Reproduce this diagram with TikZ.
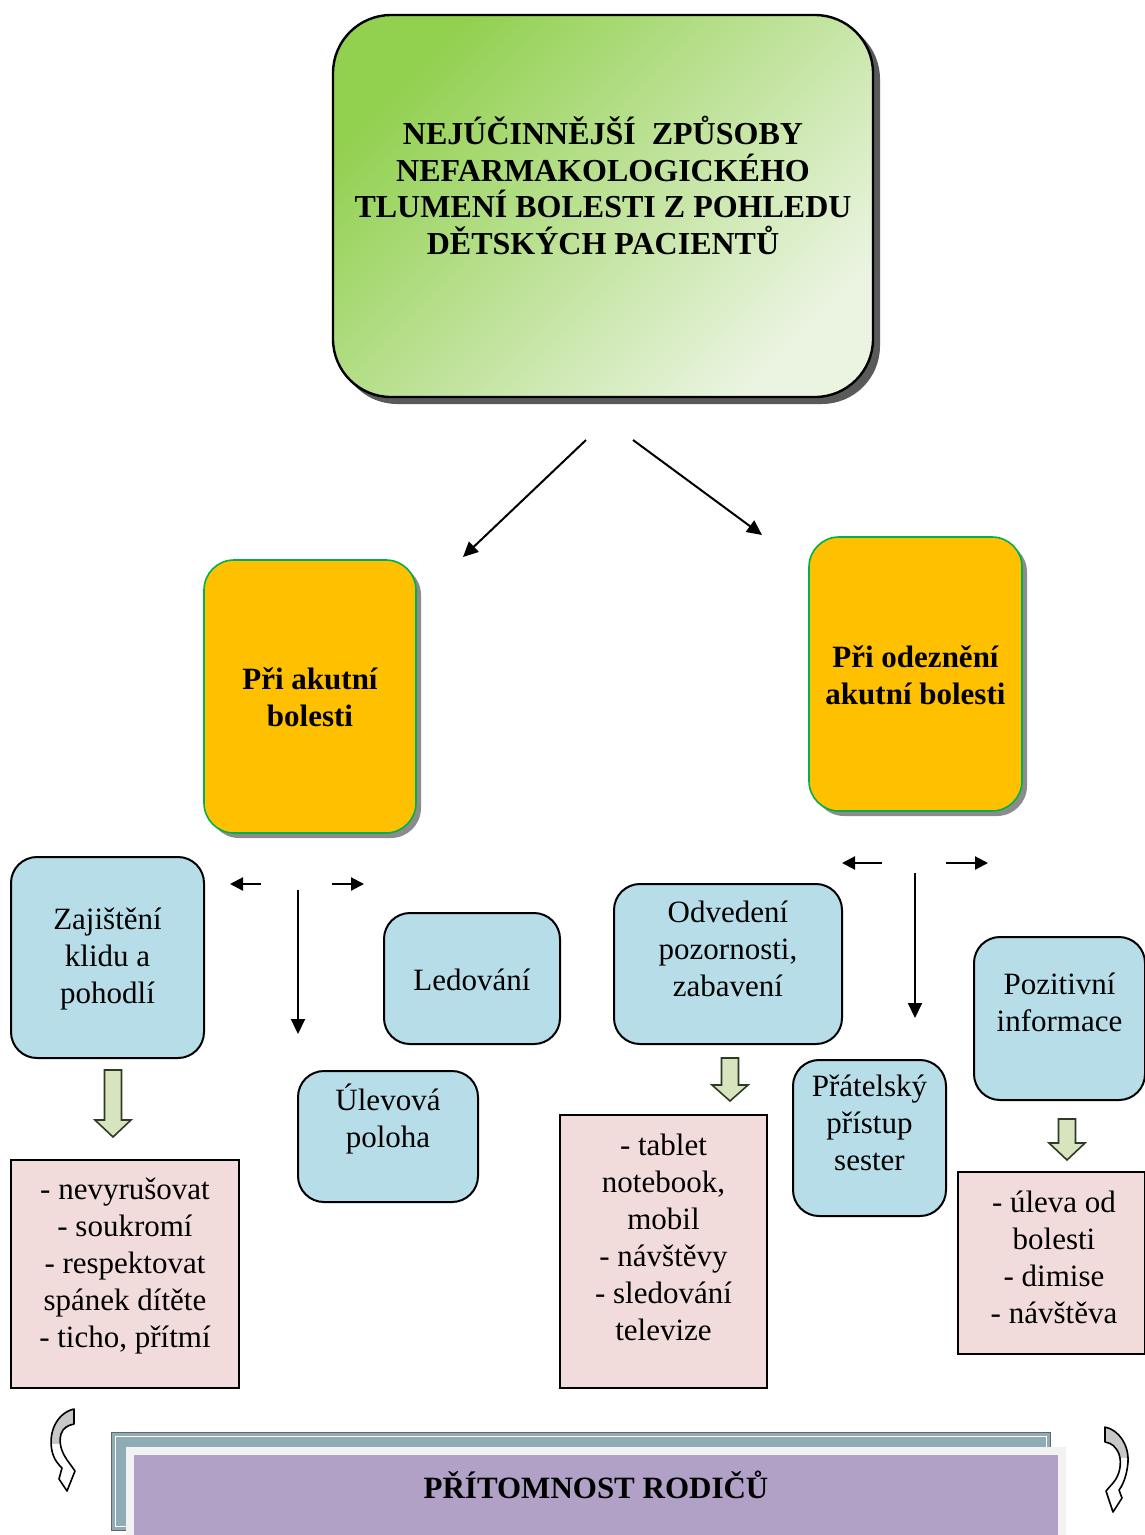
\documentclass[tikz,border=0pt]{standalone}
\usepackage{fontspec}
\setmainfont{Liberation Serif}
\usetikzlibrary{arrows.meta}
\definecolor{titlegreen}{HTML}{92D050}
\definecolor{titlepale}{HTML}{EAF4E0}
\definecolor{shadowdark}{HTML}{5A5A5A}
\definecolor{shadowgray}{HTML}{8C8C8C}
\definecolor{boxorange}{HTML}{FFC000}
\definecolor{orangeedge}{HTML}{00B050}
\definecolor{boxblue}{HTML}{B7DEE8}
\definecolor{boxpink}{HTML}{F2DCDB}
\definecolor{arrowgreen}{HTML}{D7E4BD}
\definecolor{arrowedge}{HTML}{2F3A24}
\definecolor{barback}{HTML}{8FACB4}
\definecolor{barframe}{HTML}{F2F2F2}
\definecolor{barpurple}{HTML}{B2A1C7}
\definecolor{curlgray}{HTML}{C8C8C8}

\tikzset{
  txt/.style={align=center, inner sep=0pt, font=\fontsize{31}{37}\selectfont},
  boldtxt/.style={align=center, inner sep=0pt, font=\bfseries\fontsize{31}{37}\selectfont},
  titlebox/.style={draw=black, line width=2.4pt, rounded corners=58pt,
    top color=titlegreen, bottom color=titlepale, shading angle=45,
    minimum width=540pt, minimum height=382pt, inner sep=0pt},
  orangebox/.style={draw=orangeedge, line width=1.6pt, fill=boxorange, rounded corners=30pt,
    minimum width=212pt, minimum height=273pt, inner sep=0pt},
  bluebox/.style={draw=black, line width=2pt, fill=boxblue, rounded corners=26pt, inner sep=0pt},
  pinkbox/.style={draw=black, line width=1.6pt, fill=boxpink, inner sep=0pt},
  conn/.style={line width=2pt, -{Triangle[length=15pt,width=14pt]}},
  shortconn/.style={line width=2.2pt, -{Triangle[length=13pt,width=13pt]}},
  blockarrow/.style={draw=arrowedge, line width=1.6pt, fill=arrowgreen, line join=miter},
  curl/.style={draw=black, line width=1.6pt, line join=round}
}

\newcommand\blockdown[4]{% x, top, head start, tip
  \path[blockarrow] (#1-8.5,#2) -- (#1+8.5,#2) -- (#1+8.5,#3) -- (#1+18,#3)
    -- (#1,#4) -- (#1-18,#3) -- (#1-8.5,#3) -- cycle;}

\begin{document}
\begin{tikzpicture}[x=1pt,y=-1pt]
\useasboundingbox (0,0) rectangle (1145,1535);

% ---------- title ----------
\fill[shadowdark, rounded corners=58pt] (339,21) rectangle (880,404);
\node[titlebox] (title) at (603,206) {};
\node[boldtxt, font=\bfseries\fontsize{32}{36.5}\selectfont] (titleT) at (603,185.5)
  {NEJÚČINNĚJŠÍ\ \ ZPŮSOBY\\NEFARMAKOLOGICKÉHO\\TLUMENÍ BOLESTI Z POHLEDU\\DĚTSKÝCH PACIENTŮ};

\coordinate (splitL) at (586,440);
\coordinate (splitR) at (633,440);
\coordinate (intoL) at (463,557);
\coordinate (intoR) at (762,535);
\draw[conn] (splitL) -- (intoL);
\draw[conn] (splitR) -- (intoR);

% ---------- the two phases ----------
\fill[shadowgray, rounded corners=30pt] (209,565) rectangle (421,838);
\node[orangebox] (acute) at (310,696.5) {};
\node[boldtxt] (acuteT) at (310,697.5) {Při akutní\\bolesti};

\fill[shadowgray, rounded corners=30pt] (814,542) rectangle (1027,816);
\node[orangebox, minimum width=213pt, minimum height=274pt] (fading) at (915.5,674) {};
\node[boldtxt] (fadingT) at (915.5,675.5) {Při odeznění\\akutní bolesti};

% ---------- branching arrows ----------
\coordinate (aW1) at (261,884); \coordinate (aW2) at (230,884);
\coordinate (aE1) at (332,884); \coordinate (aE2) at (364,884);
\coordinate (aS1) at (298,890); \coordinate (aS2) at (298,1034);
\draw[shortconn] (aW1) -- (aW2);
\draw[shortconn] (aE1) -- (aE2);
\draw[conn] (aS1) -- (aS2);

\coordinate (bW1) at (882,863); \coordinate (bW2) at (842,863);
\coordinate (bE1) at (946,863); \coordinate (bE2) at (988,863);
\coordinate (bS1) at (915,873); \coordinate (bS2) at (915,1018);
\draw[shortconn] (bW1) -- (bW2);
\draw[shortconn] (bE1) -- (bE2);
\draw[conn] (bS1) -- (bS2);

% ---------- methods ----------
\node[bluebox, minimum width=193pt, minimum height=201pt] (calm) at (107.5,957.5) {};
\node[txt] (calmT) at (107.5,959) {Zajištění\\klidu a\\pohodlí};

\node[bluebox, minimum width=176pt, minimum height=131pt] (ice) at (472,978.5) {};
\node[txt] (iceT) at (472,980) {Ledování};

\node[bluebox, minimum width=180pt, minimum height=131pt] (relief) at (388,1136.5) {};
\node[txt] (reliefT) at (388,1119) {Úlevová\\poloha};

\node[bluebox, minimum width=228pt, minimum height=160pt] (distract) at (728,964) {};
\node[txt] (distractT) at (728,949) {Odvedení\\pozornosti,\\zabavení};

\node[bluebox, minimum width=153pt, minimum height=156pt] (nurses) at (869.5,1138) {};
\node[txt] (nursesT) at (869.5,1123) {Přátelský\\přístup\\sester};

\node[bluebox, minimum width=171pt, minimum height=163pt] (info) at (1059.5,1018.5) {};
\node[txt] (infoT) at (1059.5,1002) {Pozitivní\\informace};

% ---------- details ----------
\blockdown{113}{1070}{1120}{1137}
\blockdown{730}{1058}{1085}{1101}
\blockdown{1067}{1119}{1143}{1160}

\node[pinkbox, minimum width=228pt, minimum height=228pt] (calmD) at (125,1274) {};
\node[txt] (calmDT) at (125,1266)
  {- nevyrušovat\\- soukromí\\- respektovat\\spánek dítěte\\- ticho, přítmí};

\node[pinkbox, minimum width=207pt, minimum height=273pt] (distractD) at (663.5,1251.5) {};
\node[txt] (distractDT) at (663.5,1237)
  {- tablet\\notebook,\\mobil\\- návštěvy\\- sledování\\televize};

\node[pinkbox, minimum width=187pt, minimum height=182pt] (infoD) at (1051.5,1263) {};
\node[txt] (infoDT) at (1054,1257) {- úleva od\\bolesti\\- dimise\\- návštěva};

% ---------- parents ----------
\draw[black!60, line width=0.8pt, fill=barback] (111,1432) rectangle (1050,1530);
\draw[white, line width=1pt] (115,1436) rectangle (1046,1526);
\fill[barframe] (126,1447) rectangle (1066,1535);
\fill[barpurple] (134,1455) rectangle (1058,1535);
\node[boldtxt] (parents) at (596,1485) {PŘÍTOMNOST RODIČŮ};

% curled arrows on both sides
\def\curlLeft{(74,1409) .. controls (57,1413) and (48,1432) .. (52,1451)
  .. controls (54,1460) and (59,1465) .. (62,1468) -- (59,1479) -- (67,1491) -- (75,1471)
  -- (70,1464) .. controls (63,1455) and (58,1445) .. (61,1434)
  .. controls (63,1428) and (68,1425) .. (74,1424) -- cycle}
\def\curlRight{(1105,1427) .. controls (1119,1430) and (1129,1445) .. (1128,1462)
  .. controls (1127,1475) and (1123,1485) .. (1119,1490) -- (1122,1498) -- (1113,1512)
  -- (1106,1491) -- (1113,1483) .. controls (1120,1475) and (1122,1463) .. (1119,1454)
  .. controls (1116,1447) and (1112,1443) .. (1105,1442) -- cycle}
\fill[white] \curlLeft;
\begin{scope}
  \clip \curlLeft;
  \fill[curlgray] (40,1400) rectangle (80,1444);
\end{scope}
\draw[curl] \curlLeft;
\fill[white] \curlRight;
\begin{scope}
  \clip \curlRight;
  \fill[curlgray] (1100,1420) rectangle (1135,1458);
\end{scope}
\draw[curl] \curlRight;
\end{tikzpicture}
\end{document}
